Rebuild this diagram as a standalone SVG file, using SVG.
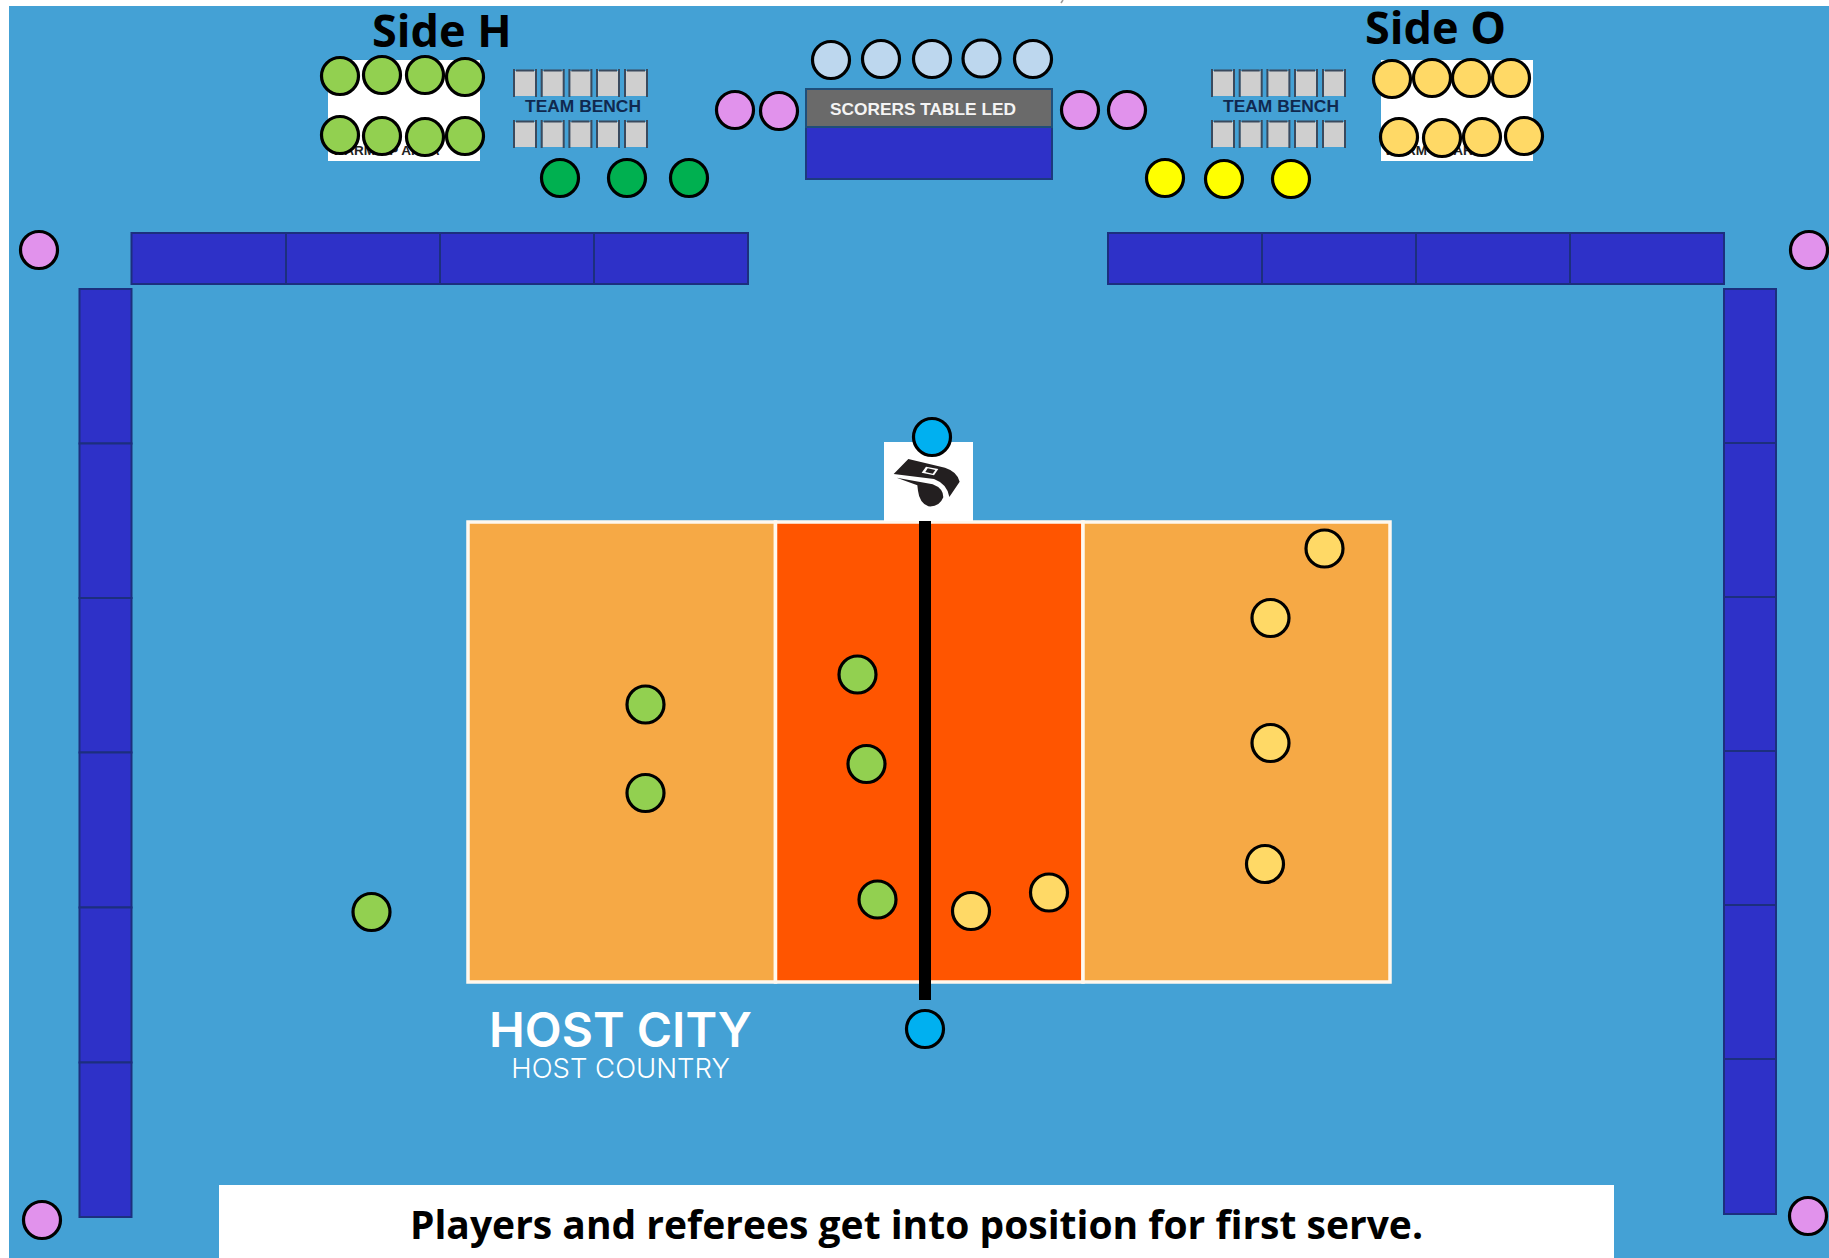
<svg xmlns="http://www.w3.org/2000/svg" xmlns:xlink="http://www.w3.org/1999/xlink" width="1829" height="1258" viewBox="0 0 1829 1258">
<style>
.p{stroke:#000;stroke-width:3.2}
.h{fill:#92D050}.o{fill:#FFD966}.k{fill:#E192EC}.b{fill:#BDD7EE}.g{fill:#00B050}.y{fill:#FFFF00}.r{fill:#00B0F0}
.wall{fill:#2E31C8;stroke:#1C2F7E;stroke-width:2}
.t{font-family:"Open Sans","Liberation Sans",sans-serif;font-weight:700;fill:#000}
.bn{font-family:"Liberation Sans",Arial,sans-serif;font-weight:700;font-size:17.4px;fill:#10294F;text-anchor:middle}
.wu{font-family:"Liberation Sans",Arial,sans-serif;font-weight:700;font-size:13.5px;fill:#222;text-anchor:middle}
.court{stroke:#FFF8EE;stroke-width:3.5}
</style>
<defs>
<g id="seat">
<rect x="1.5" y="2" width="21" height="25" fill="#CFCFCF"/>
<path d="M1 0V28M23 0V28M3 1.5H21" fill="none" stroke="#3A4A5E" stroke-width="2"/>
</g>
<g id="seats">
<use xlink:href="#seat" href="#seat" x="0"/>
<use xlink:href="#seat" href="#seat" x="27.7"/>
<use xlink:href="#seat" href="#seat" x="55.4"/>
<use xlink:href="#seat" href="#seat" x="83"/>
<use xlink:href="#seat" href="#seat" x="111"/>
</g>
</defs>
<rect width="1829" height="1258" fill="#FFF"/>
<rect x="9" y="6" width="1820" height="1252" fill="#44A1D5"/>
<path d="M1063 0L1061 3" stroke="#999" stroke-width="1.5"/>

<g id="walls">
<rect class="wall" x="131.500" y="233" width="154.500" height="51"/>
<rect class="wall" x="286" y="233" width="154" height="51"/>
<rect class="wall" x="440" y="233" width="154" height="51"/>
<rect class="wall" x="594" y="233" width="154" height="51"/>
<rect class="wall" x="1108" y="233" width="154" height="51"/>
<rect class="wall" x="1262" y="233" width="154" height="51"/>
<rect class="wall" x="1416" y="233" width="154" height="51"/>
<rect class="wall" x="1570" y="233" width="154" height="51"/>
<rect class="wall" x="79.500" y="289" width="52" height="154.500"/>
<rect class="wall" x="79.500" y="443.500" width="52" height="154.500"/>
<rect class="wall" x="79.500" y="598" width="52" height="154.500"/>
<rect class="wall" x="79.500" y="752.500" width="52" height="155"/>
<rect class="wall" x="79.500" y="907.500" width="52" height="155"/>
<rect class="wall" x="79.500" y="1062.500" width="52" height="154.500"/>
<rect class="wall" x="1724" y="289" width="52" height="154"/>
<rect class="wall" x="1724" y="443" width="52" height="154"/>
<rect class="wall" x="1724" y="597" width="52" height="154"/>
<rect class="wall" x="1724" y="751" width="52" height="154"/>
<rect class="wall" x="1724" y="905" width="52" height="154"/>
<rect class="wall" x="1724" y="1059" width="52" height="155"/>
</g>

<g id="warmup-h">
<rect x="328" y="60" width="152" height="101" fill="#FFF"/>
<text class="wu" x="386" y="155">WARM-UP AREA</text>
</g>
<g id="warmup-o">
<rect x="1381" y="60" width="152" height="101" fill="#FFF"/>
<text class="wu" x="1438" y="155">WARM-UP AREA</text>
</g>

<g id="bench-h">
<use xlink:href="#seats" href="#seats" x="513" y="69"/>
<use xlink:href="#seats" href="#seats" x="513" y="120"/>
<text class="bn" x="583" y="112">TEAM BENCH</text>
</g>
<g id="bench-o">
<use xlink:href="#seats" href="#seats" x="1211" y="69"/>
<use xlink:href="#seats" href="#seats" x="1211" y="120"/>
<text class="bn" x="1281" y="112">TEAM BENCH</text>
</g>

<g id="scorers-table">
<rect x="806" y="127" width="246" height="52" fill="#2E31C8" stroke="#1C3A7E" stroke-width="2"/>
<rect x="806" y="89" width="246" height="38" fill="#6A6A6A" stroke="#1F4E79" stroke-width="2"/>
<text x="923" y="115" font-family="Liberation Sans, Arial, sans-serif" font-weight="700" font-size="17.300" fill="#F4F4F4" text-anchor="middle">SCORERS TABLE LED</text>
</g>

<g id="court">
<rect class="court" x="468" y="522" width="307.500" height="460" fill="#F6A945"/>
<rect class="court" x="775.500" y="522" width="307.500" height="460" fill="#FF5500"/>
<rect class="court" x="1083" y="522" width="307" height="460" fill="#F6A945"/>
</g>

<g id="referee-stand">
<rect x="884" y="442" width="89" height="79" fill="#FFF"/>
<g transform="translate(860 400) scale(.33333)" fill="#231F20">
<path d="M101 222L145 177L255 203Q292 215 299 245L268 291Q262 252 222 237Z"/>
<path d="M110 233L218 253Q250 265 250 292Q238 322 205 319Q178 308 174 272L172 256Z"/>
<path d="M198 200L235 207L222 226L185 218Z" fill="#FFF"/>
<path d="M203 205L226 210L218 221L196 216Z"/>
</g>
</g>
<g id="net"><rect x="919" y="521" width="12" height="479" fill="#000"/></g>

<g id="host-label" font-family="Inter, 'Liberation Sans', sans-serif" fill="#FFF" text-anchor="middle">
<text x="620.500" y="1047" font-size="48" font-weight="600">HOST CITY</text>
<text x="620.500" y="1078" font-size="27.500" font-weight="300">HOST COUNTRY</text>
</g>

<g id="side-h-title"><text class="t" x="372" y="47" font-size="45">Side H</text></g>
<g id="side-o-title"><text class="t" x="1365" y="44" font-size="45">Side O</text></g>

<g id="bench-players-h">
<circle id="h1" class="p h" cx="340" cy="76" r="18.500"/>
<circle id="h2" class="p h" cx="382" cy="75" r="18.500"/>
<circle id="h3" class="p h" cx="425" cy="75" r="18.500"/>
<circle id="h4" class="p h" cx="465" cy="77" r="18.500"/>
<circle id="h5" class="p h" cx="340" cy="135" r="18.500"/>
<circle id="h6" class="p h" cx="382" cy="136" r="18.500"/>
<circle id="h7" class="p h" cx="425" cy="137" r="18.500"/>
<circle id="h8" class="p h" cx="465" cy="136" r="18.500"/>
</g>
<g id="bench-players-o">
<circle id="o1" class="p o" cx="1392" cy="79" r="18.500"/>
<circle id="o2" class="p o" cx="1432" cy="78" r="18.500"/>
<circle id="o3" class="p o" cx="1471" cy="78" r="18.500"/>
<circle id="o4" class="p o" cx="1511" cy="78" r="18.500"/>
<circle id="o5" class="p o" cx="1399" cy="137" r="18.500"/>
<circle id="o6" class="p o" cx="1442" cy="138" r="18.500"/>
<circle id="o7" class="p o" cx="1482" cy="137" r="18.500"/>
<circle id="o8" class="p o" cx="1524" cy="136" r="18.500"/>
</g>
<g id="staff-h">
<circle class="p g" cx="560" cy="178" r="18.500"/>
<circle class="p g" cx="627" cy="178" r="18.500"/>
<circle class="p g" cx="689" cy="178" r="18.500"/>
</g>
<g id="staff-o">
<circle class="p y" cx="1165" cy="178" r="18.500"/>
<circle class="p y" cx="1224" cy="179" r="18.500"/>
<circle class="p y" cx="1291" cy="179" r="18.500"/>
</g>
<g id="officials-table">
<circle class="p b" cx="831" cy="60" r="18.500"/>
<circle class="p b" cx="881" cy="59" r="18.500"/>
<circle class="p b" cx="932" cy="59" r="18.500"/>
<circle class="p b" cx="981.500" cy="58.500" r="18.500"/>
<circle class="p b" cx="1033" cy="59" r="18.500"/>
</g>
<g id="line-judges">
<circle class="p k" cx="735" cy="110" r="18.500"/>
<circle class="p k" cx="779" cy="111" r="18.500"/>
<circle class="p k" cx="1080" cy="110" r="18.500"/>
<circle class="p k" cx="1127" cy="110" r="18.500"/>
<circle class="p k" cx="39" cy="250" r="18.500"/>
<circle class="p k" cx="42" cy="1220" r="18.500"/>
<circle class="p k" cx="1808" cy="1216" r="18.500"/>
<circle class="p k" cx="1809" cy="250" r="18.500"/>
</g>
<g id="referees">
<circle id="ref1" class="p r" cx="932" cy="437" r="18.500"/>
<circle id="ref2" class="p r" cx="925" cy="1029" r="18.500"/>
</g>
<g id="players-h">
<circle class="p h" cx="645.500" cy="704.500" r="18.500"/>
<circle class="p h" cx="645.500" cy="793" r="18.500"/>
<circle class="p h" cx="857.500" cy="674.500" r="18.500"/>
<circle class="p h" cx="866.500" cy="764" r="18.500"/>
<circle class="p h" cx="877.500" cy="899.500" r="18.500"/>
<circle class="p h" cx="371.500" cy="912" r="18.500"/>
</g>
<g id="players-o">
<circle class="p o" cx="1324.500" cy="548.500" r="18.500"/>
<circle class="p o" cx="1270.500" cy="618" r="18.500"/>
<circle class="p o" cx="1270.500" cy="743" r="18.500"/>
<circle class="p o" cx="1265" cy="864" r="18.500"/>
<circle class="p o" cx="1049" cy="892.500" r="18.500"/>
<circle class="p o" cx="971" cy="911" r="18.500"/>
</g>

<g id="caption">
<rect x="219" y="1185" width="1395" height="73" fill="#FFF"/>
<text class="t" x="916.500" y="1239" font-size="39" text-anchor="middle">Players and referees get into position for first serve.</text>
</g>
</svg>
